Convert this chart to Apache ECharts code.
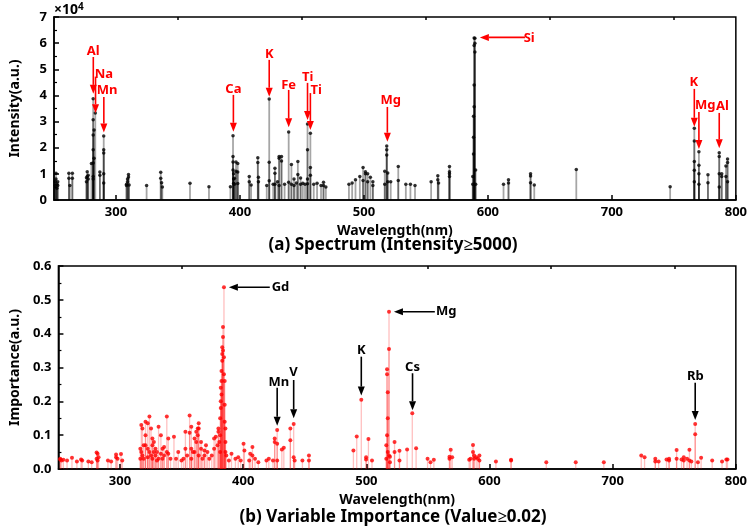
<!DOCTYPE html>
<html>
<head>
<meta charset="utf-8">
<script src="https://cdn.jsdelivr.net/npm/echarts@6/dist/echarts.min.js"></script>
<style>
  html, body { margin: 0; padding: 0; background: #fff; }
  #chart { width: 750px; height: 528px; }
</style>
</head>
<body>
<div id="chart"></div>
<script>
// (a) spectrum lines above 5000 counts: [wavelength nm, [intensities, x1e4]]
const spectrumLines = [
  [251.0, [0.55, 0.7]], [251.6, [1.02, 0.8]], [252.3, [0.6, 0.45]], [253.0, [0.7, 0.55]],
  [262.0, [1.02, 0.83]], [262.8, [0.55]], [264.8, [1.02, 0.83]],
  [276.2, [0.7, 0.85]], [276.8, [1.08, 0.9]], [277.6, [0.95, 0.8]], [280.2, [1.4]],
  [281.6, [3.87, 3.07, 2.49, 1.92, 1.42, 0.9, 0.8]], [282.3, [2.68, 1.6]], [283.3, [3.33]],
  [287.0, [1.07, 0.95]], [290.1, [2.45, 1.92, 1.8, 1.0, 0.65]],
  [308.5, [0.6, 0.55]], [309.3, [0.8, 0.7]], [310.1, [0.98, 0.88]], [310.6, [0.57]],
  [324.7, [0.55]], [336.1, [1.06, 0.83]], [336.8, [0.66]], [337.4, [0.5]],
  [359.7, [0.64]], [375.0, [0.51]],
  [392.3, [0.51]], [394.4, [2.46, 1.66, 1.45, 1.15]], [394.9, [1.0, 0.8, 0.64]], [395.5, [0.83, 0.6]],
  [396.8, [1.45, 1.1]], [398.2, [1.4, 1.07, 0.63]],
  [407.5, [0.9, 0.7]], [409.0, [0.57]], [414.4, [1.62, 1.43]], [414.9, [0.87, 0.7]],
  [421.6, [0.55]], [423.6, [3.86, 1.44, 0.74]], [426.8, [0.6]], [428.2, [1.21, 1.02, 0.6]],
  [430.3, [0.7]], [431.6, [1.66, 1.6, 0.55]], [433.5, [1.66, 1.49]], [436.0, [0.6]],
  [439.3, [2.6, 0.68]], [441.5, [1.36, 0.6]], [443.6, [0.8, 0.55]], [445.5, [0.65]],
  [446.7, [1.47, 0.98]], [448.9, [0.84, 0.6]], [450.7, [0.64]], [452.5, [0.6]],
  [454.5, [2.91, 1.92, 0.8, 0.62]], [456.8, [2.55, 1.24, 0.95]], [459.5, [0.6]],
  [462.2, [0.64]], [465.4, [0.55]], [467.4, [0.68, 0.55]], [469.3, [0.5]],
  [487.9, [0.6]], [490.5, [0.65]], [493.2, [0.77]], [496.7, [0.9]], [499.3, [1.24, 0.75]],
  [501.2, [1.08, 1.0]], [503.0, [1.0, 0.7]], [505.2, [0.87]], [507.2, [0.7, 0.55]],
  [516.8, [1.1, 0.6]], [518.4, [2.07, 1.92, 1.72]], [519.2, [1.03, 0.7]], [521.6, [0.7]],
  [527.7, [1.28, 0.75]], [533.8, [0.6]], [537.5, [0.6]], [541.2, [0.55]],
  [554.2, [0.7]], [559.6, [0.93, 0.77]], [560.2, [0.65]], [569.0, [1.28, 1.08, 1.0, 0.9]],
  [587.8, [0.6, 0.9]], [588.4, [1.76, 2.4, 3.2]], [588.9, [6.2, 5.91, 4.4, 3.57]],
  [589.5, [6.19, 6.0, 5.66]], [590.1, [1.15, 0.6]],
  [612.6, [0.6]], [616.6, [0.77, 0.65]], [634.4, [1.0, 0.92, 0.66]], [637.4, [0.57]],
  [671.3, [1.17]], [747.0, [0.51]],
  [766.5, [2.74, 2.26, 1.47, 1.14, 0.7]], [770.2, [1.85, 1.33, 1.0, 0.6]], [777.5, [0.97, 0.66]],
  [786.6, [1.81, 1.66, 1.0, 0.5]], [788.6, [1.0, 0.9]], [792.0, [1.3, 0.9]], [793.3, [1.57, 1.43, 0.7]]
];

// (b) variable importance above 0.02: [wavelength nm, [values]]
const importanceLines = [
  [251.5, [0.028, 0.03]], [252.5, [0.025]], [254.0, [0.027]], [257.0, [0.025]], [261.0, [0.033]],
  [265.0, [0.022]], [268.4, [0.028]], [269.3, [0.025]], [274.3, [0.022]], [277.0, [0.02]],
  [281.0, [0.049, 0.03]], [281.8, [0.045, 0.025]], [282.6, [0.035]],
  [290.2, [0.025]], [292.8, [0.022]], [296.8, [0.043, 0.035]], [298.0, [0.03]], [300.8, [0.044]], [301.8, [0.025]],
  [316.5, [0.06, 0.03]], [317.3, [0.13, 0.05]], [318.2, [0.12, 0.04]], [319.2, [0.07, 0.03]],
  [320.7, [0.14, 0.1, 0.07]], [322.5, [0.135, 0.06, 0.035]], [323.9, [0.155, 0.05]], [325.2, [0.12, 0.04]],
  [326.3, [0.09, 0.07, 0.03]], [327.5, [0.08, 0.05]], [328.8, [0.06, 0.04]], [330.0, [0.05, 0.025]],
  [331.3, [0.125, 0.03]], [333.2, [0.1, 0.045]], [334.5, [0.06, 0.03]], [335.8, [0.065, 0.04]],
  [338.0, [0.155, 0.05]], [339.2, [0.09, 0.045]], [341.0, [0.03]], [343.8, [0.095]], [345.5, [0.03]],
  [347.3, [0.05]], [349.9, [0.025]], [351.5, [0.03]], [353.1, [0.11, 0.06]], [354.5, [0.04]],
  [356.5, [0.158, 0.107]], [357.9, [0.125, 0.06, 0.03]], [359.2, [0.05]], [360.5, [0.09, 0.05]],
  [361.9, [0.11, 0.08]], [363.1, [0.12, 0.1]], [363.9, [0.135, 0.12, 0.04]], [365.8, [0.08, 0.06]],
  [367.0, [0.03]], [368.5, [0.055, 0.04]], [369.8, [0.07]], [371.0, [0.05]], [372.5, [0.03]],
  [374.5, [0.04]], [376.4, [0.09, 0.06]], [377.8, [0.095]], [379.2, [0.07]], [379.9, [0.12, 0.11]],
  [380.6, [0.08]], [381.3, [0.15, 0.1, 0.05]], [381.8, [0.24, 0.2, 0.18]], [382.4, [0.29, 0.26, 0.22]],
  [383.0, [0.36, 0.34, 0.32]], [383.6, [0.42, 0.39, 0.35]], [384.4, [0.537, 0.33, 0.28]],
  [385.0, [0.26, 0.19, 0.14]], [385.6, [0.12, 0.08, 0.05]], [386.3, [0.04]],
  [388.4, [0.025]], [390.5, [0.045]], [393.7, [0.03]], [396.0, [0.035]], [398.0, [0.025]],
  [400.3, [0.075]], [401.0, [0.055]], [404.9, [0.025]], [405.7, [0.045]], [407.5, [0.065, 0.04]],
  [409.6, [0.03]], [412.3, [0.02]], [418.9, [0.025]], [420.8, [0.03]], [424.2, [0.025]],
  [425.6, [0.08, 0.09]], [427.6, [0.115, 0.075, 0.025]], [431.4, [0.058]], [433.0, [0.063]],
  [438.3, [0.12, 0.085]], [441.0, [0.133, 0.035]], [441.8, [0.025]], [448.1, [0.025]], [453.4, [0.025, 0.04]],
  [489.5, [0.055]], [492.2, [0.096]], [495.9, [0.205]], [499.8, [0.035, 0.028]], [501.7, [0.089]], [504.6, [0.025]],
  [516.2, [0.03, 0.07]], [516.8, [0.295, 0.28, 0.1]], [517.4, [0.227, 0.15, 0.05]], [518.4, [0.465, 0.355, 0.04]],
  [519.2, [0.036, 0.02]], [522.9, [0.08, 0.05]], [526.9, [0.054, 0.025]], [533.1, [0.058]],
  [537.3, [0.165]], [540.4, [0.061]], [549.7, [0.03]], [552.1, [0.02]], [554.8, [0.027]],
  [567.5, [0.036, 0.03]], [568.5, [0.057]], [569.7, [0.035]], [583.5, [0.027]], [584.5, [0.03]],
  [586.6, [0.071, 0.05]], [587.5, [0.04, 0.03]], [589.2, [0.035]], [590.5, [0.03]], [591.8, [0.04, 0.025]],
  [605.2, [0.022]], [617.5, [0.027, 0.025]], [646.1, [0.02]], [670.0, [0.02]], [692.8, [0.02]],
  [723.2, [0.04]], [725.9, [0.035]], [734.6, [0.03, 0.022]], [737.3, [0.022]], [743.7, [0.028]],
  [745.8, [0.03, 0.025]], [751.9, [0.056, 0.03]], [755.9, [0.028]], [757.7, [0.035, 0.025]],
  [760.4, [0.03]], [762.3, [0.057, 0.025]], [763.9, [0.022]], [767.0, [0.133, 0.103]],
  [769.2, [0.02]], [771.8, [0.033]], [780.8, [0.025]], [788.8, [0.022]], [792.3, [0.028]], [793.2, [0.028]]
];

// element labels: [text, arrow x1, y1, x2, y2, label x, label y] (data units)
const spectrumLabels = [
  ['Al', 281.7, 5.47, 281.7, 4.06, 281.7, 5.70],
  ['Na', 283.5, 4.72, 283.5, 3.32, 290.2, 4.82],
  ['Mn', 290.2, 3.94, 290.2, 2.58, 292.8, 4.18],
  ['Ca', 394.7, 4.02, 394.7, 2.61, 394.7, 4.23],
  ['K', 423.6, 5.36, 423.6, 3.95, 423.6, 5.57],
  ['Fe', 439.3, 4.21, 439.3, 2.78, 439.3, 4.39],
  ['Ti', 454.5, 4.48, 454.5, 3.06, 454.7, 4.69],
  ['Ti', 456.8, 4.09, 456.8, 2.68, 461.4, 4.21],
  ['Mg', 518.9, 3.56, 518.9, 2.23, 521.6, 3.83],
  ['Si', 629.9, 6.22, 593.5, 6.22, 633.3, 6.20],
  ['K', 766.5, 4.25, 766.5, 2.80, 766.0, 4.50],
  ['Mg', 770.2, 3.37, 770.2, 1.95, 775.3, 3.63],
  ['Al', 786.6, 3.33, 786.6, 1.98, 789.1, 3.57]
];
const importanceLabels = [
  ['Gd', 421.6, 0.537, 388.4, 0.537, 430.3, 0.537],
  ['Mn', 427.6, 0.240, 427.6, 0.128, 429.0, 0.256],
  ['V', 441.0, 0.263, 441.0, 0.150, 440.9, 0.285],
  ['K', 495.9, 0.332, 495.9, 0.217, 495.9, 0.350],
  ['Mg', 555.6, 0.465, 522.4, 0.465, 564.9, 0.465],
  ['Cs', 537.5, 0.283, 537.5, 0.174, 537.5, 0.300],
  ['Rb', 767.0, 0.255, 767.0, 0.145, 767.2, 0.273]
];

const majorTicks = [300, 400, 500, 600, 700, 800];
const minorTicks = [350, 450, 550, 650, 750];

function flatten(lines) {
  const out = [];
  lines.forEach(function (l) { l[1].forEach(function (v) { out.push([l[0], v]); }); });
  return out;
}
const spectrumPts = flatten(spectrumLines);
const importancePts = flatten(importanceLines);

const FONT = 'Noto Sans';
const chart = echarts.init(document.getElementById('chart'));

function stemRender(color, width) {
  return function (params, api) {
    const p0 = api.coord([api.value(0), 0]);
    const p1 = api.coord([api.value(0), api.value(1)]);
    return {
      type: 'line',
      shape: { x1: p0[0], y1: p0[1], x2: p1[0], y2: p1[1] },
      style: { stroke: color, lineWidth: width }
    };
  };
}

// arrows + element names; numbers go through the axes, names looked up by index
function arrowRender(labels, color) {
  return function (params, api) {
    const name = labels[params.dataIndex][0];
    const a = api.coord([api.value(0), api.value(1)]);
    const b = api.coord([api.value(2), api.value(3)]);
    const t = api.coord([api.value(4), api.value(5)]);
    const dx = b[0] - a[0], dy = b[1] - a[1];
    const len = Math.sqrt(dx * dx + dy * dy);
    const ux = dx / len, uy = dy / len;
    const hl = 9, hw = 3.5;
    const base = [b[0] - ux * hl, b[1] - uy * hl];
    return {
      type: 'group',
      children: [
        { type: 'line', shape: { x1: a[0], y1: a[1], x2: base[0], y2: base[1] },
          style: { stroke: color, lineWidth: 1.6 } },
        { type: 'polygon', shape: { points: [
            [b[0], b[1]],
            [base[0] - uy * hw, base[1] + ux * hw],
            [base[0] + uy * hw, base[1] - ux * hw]] },
          style: { fill: color } },
        { type: 'text', x: t[0], y: t[1],
          style: { text: name, fill: color, font: 'bold 13px "' + FONT + '"',
                   align: 'center', verticalAlign: 'middle' } }
      ]
    };
  };
}

function xAxisBase(gridIndex) {
  return {
    type: 'value', gridIndex: gridIndex, min: 250, max: 800,
    name: 'Wavelength(nm)', nameLocation: 'middle', nameGap: 24,
    nameTextStyle: { fontFamily: FONT, fontWeight: 'bold', fontSize: 14, color: '#000' },
    axisLine: { lineStyle: { color: '#000', width: 1.5 } },
    axisTick: { inside: true, length: 5, customValues: majorTicks, lineStyle: { color: '#000', width: 1.5 } },
    axisLabel: { customValues: majorTicks, fontFamily: FONT, fontWeight: 'bold', fontSize: 13, color: '#000', margin: 6 },
    splitLine: { show: false }
  };
}
function xAxisMinor(gridIndex) {
  return {
    type: 'value', gridIndex: gridIndex, min: 250, max: 800,
    axisLine: { show: false },
    axisTick: { inside: true, length: 3, customValues: minorTicks, lineStyle: { color: '#000', width: 1.5 } },
    axisLabel: { show: false }, splitLine: { show: false }
  };
}
function yAxisBase(gridIndex, name, max, interval, fmt) {
  return {
    type: 'value', gridIndex: gridIndex, min: 0, max: max, interval: interval,
    name: name, nameLocation: 'middle', nameGap: 32, nameRotate: 90,
    nameTextStyle: { fontFamily: FONT, fontWeight: 'bold', fontSize: 14, color: '#000' },
    axisLine: { lineStyle: { color: '#000', width: 1.5 } },
    axisTick: { inside: true, length: 5, lineStyle: { color: '#000', width: 1.5 } },
    minorTick: { show: true, splitNumber: 2, length: 3, lineStyle: { color: '#000', width: 1.2 } },
    axisLabel: { formatter: fmt, fontFamily: FONT, fontWeight: 'bold', fontSize: 13, color: '#000', margin: 7 },
    splitLine: { show: false }, minorSplitLine: { show: false }
  };
}

const option = {
  animation: false,
  backgroundColor: '#fff',
  grid: [
    { left: 49, right: 13, top: 17, height: 183, show: true, borderColor: '#000', borderWidth: 1.5 },
    { left: 49, right: 14, top: 266, height: 203, show: true, borderColor: '#000', borderWidth: 1.5 }
  ],
  xAxis: [xAxisBase(0), xAxisBase(1), xAxisMinor(0), xAxisMinor(1)],
  yAxis: [
    yAxisBase(0, 'Intensity(a.u.)', 7, 1, function (v) { return v; }),
    yAxisBase(1, 'Importance(a.u.)', 0.6, 0.1, function (v) { return v.toFixed(1); })
  ],
  graphic: [
    { type: 'text', x: 54, y: 2, style: { rich: {
        a: { font: 'bold 14px "' + FONT + '"', fill: '#000' },
        b: { font: 'bold 10px "' + FONT + '"', fill: '#000', verticalAlign: 'top', padding: [0, 0, 6, 0] } },
        text: '{a|×10}{b|4}' } },
    { type: 'text', x: 393, y: 245, style: { text: '(a) Spectrum (Intensity≥5000)', align: 'center',
        verticalAlign: 'middle', font: 'bold 17px "' + FONT + '"', fill: '#000' } },
    { type: 'text', x: 393, y: 517, style: { text: '(b) Variable Importance (Value≥0.02)', align: 'center',
        verticalAlign: 'middle', font: 'bold 17px "' + FONT + '"', fill: '#000' } }
  ],
  series: [
    { type: 'custom', xAxisIndex: 0, yAxisIndex: 0, data: spectrumPts, z: 1,
      renderItem: stemRender('rgba(0,0,0,0.35)', 1.8) },
    { type: 'scatter', xAxisIndex: 0, yAxisIndex: 0, data: spectrumPts, z: 2,
      symbolSize: 3.5, itemStyle: { color: '#000' } },
    { type: 'custom', xAxisIndex: 0, yAxisIndex: 0, z: 5,
      data: spectrumLabels.map(function (r) { return r.slice(1); }),
      renderItem: arrowRender(spectrumLabels, '#ff0000') },
    { type: 'custom', xAxisIndex: 1, yAxisIndex: 1, data: importancePts, z: 1,
      renderItem: stemRender('rgba(255,0,0,0.25)', 1.3) },
    { type: 'scatter', xAxisIndex: 1, yAxisIndex: 1, data: importancePts, z: 2,
      symbolSize: 4, itemStyle: { color: '#ff0000' } },
    { type: 'custom', xAxisIndex: 1, yAxisIndex: 1, z: 5,
      data: importanceLabels.map(function (r) { return r.slice(1); }),
      renderItem: arrowRender(importanceLabels, '#000') }
  ]
};
chart.setOption(option);
</script>
</body>
</html>
